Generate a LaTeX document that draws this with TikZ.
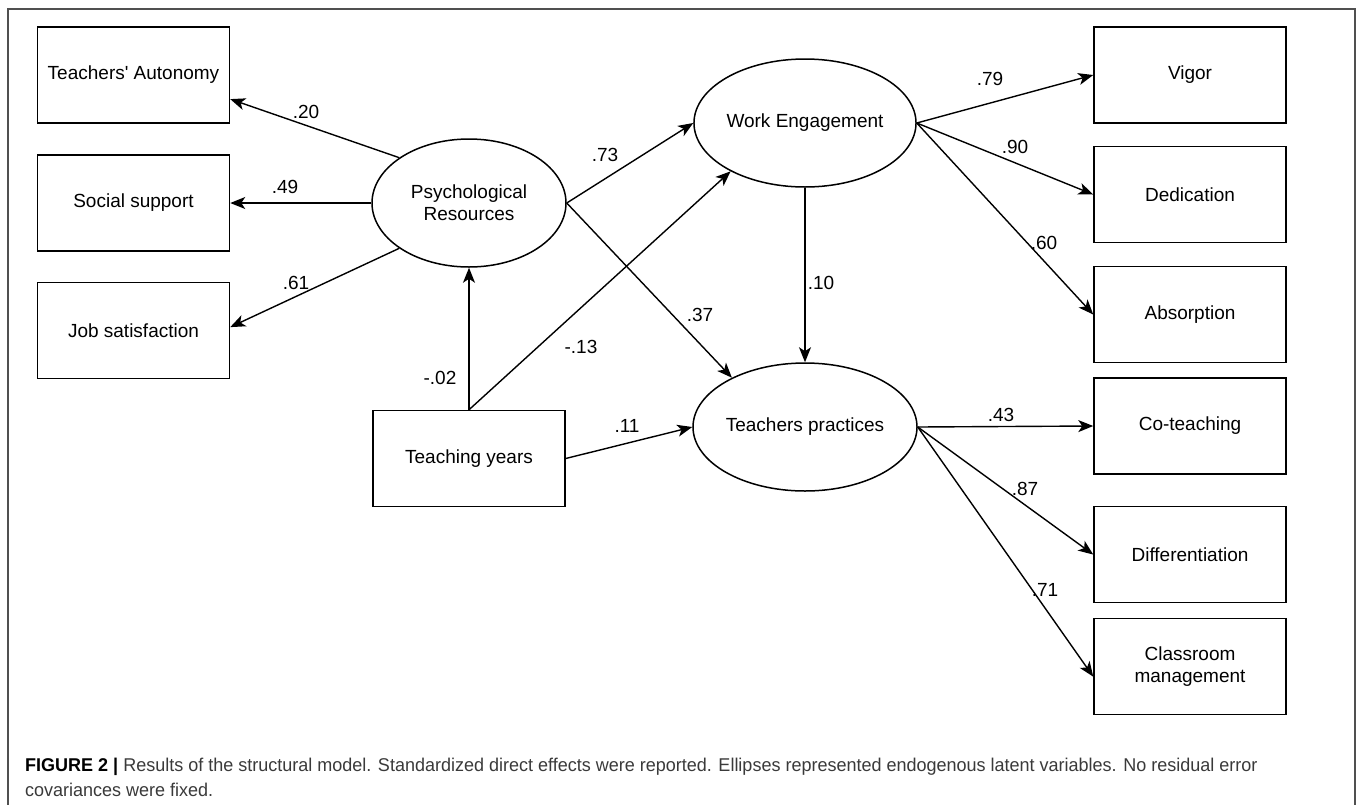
\documentclass[tikz,border=0pt]{standalone}
\usepackage{fontspec}
\setmainfont{Liberation Sans}
\newfontfamily\capfont[FakeStretch=0.973]{Liberation Sans}
\usetikzlibrary{arrows.meta,shapes.geometric}
\definecolor{capgray}{HTML}{3A3A3A}
\definecolor{framegray}{HTML}{505050}
\tikzset{
  obs/.style={draw, line width=1.5pt, minimum width=192pt, minimum height=96pt,
    inner sep=0pt, align=center, font=\fontsize{19}{22}\selectfont},
  lat/.style={draw, ellipse, line width=1.5pt, minimum width=194pt, minimum height=128pt,
    inner sep=0pt, align=center, font=\fontsize{19}{22}\selectfont},
  eff/.style={-{Stealth[length=15pt,width=12pt,inset=4pt]}, line width=1.4pt},
  lbl/.style={inner sep=0pt, font=\fontsize{19}{22}\selectfont},
  captxt/.style={inner sep=0pt, anchor=base west, text=capgray, font=\capfont\fontsize{18.5}{22}\selectfont}
}
\begin{document}
\begin{tikzpicture}[x=1pt, y=-1pt]
    \useasboundingbox (0,0) rectangle (1358,804);
    \draw[framegray, line width=1.5pt] (8,806) -- (8,9) -- (1355,9) -- (1355,806); % frame
    % indicators on the left
    \node[obs] (ta) at (133.5,75) {Teachers\textquotesingle\ Autonomy};
    \node[obs] (ss) at (133.5,203) {Social support};
    \node[obs] (js) at (133.5,330.5) {Job satisfaction};
    % latent variables
    \node[lat] (pr) at (469,203) {Psychological\\Resources};
    \node[lat] (we) at (805,123) {Work Engagement};
    \node[lat] (tp) at (805,427) {Teachers practices};
    \node[obs] (ty) at (469,458.5) {Teaching years};
    % indicators on the right
    \node[obs] (vig) at (1190,75) {Vigor};
    \node[obs] (ded) at (1190,194.5) {Dedication};
    \node[obs] (abs) at (1190,314.5) {Absorption};
    \node[obs] (cot) at (1190,426) {Co-teaching};
    \node[obs] (dif) at (1190,554.5) {Differentiation};
    \node[obs] (cm) at (1190,666.5) {Classroom\\management};
    % paths
    \draw[eff] (pr.147) -- (ta.-14);
    \draw[eff] (pr.west) -- (ss.east);
    \draw[eff] (pr.213) -- (js.2);
    \draw[eff] (ty.north) -- (pr.south);
    \draw[eff] (ty.north) -- (we.213);
    \draw[eff] (pr.east) -- (we.west);
    \draw[eff] (pr.east) -- (tp.146);
    \draw[eff] (ty.east) -- (tp.west);
    \draw[eff] (we.south) -- (tp.north);
    \foreach \t in {vig,ded,abs} \draw[eff] (we.east) -- (\t.west);
    \draw[eff] (tp.east) -- (cot.west);
    \draw[eff] (tp.east) -- (dif.west);
    \draw[eff] (tp.east) -- (cm.186);
    % coefficients
    \node[lbl] (l20) at (306,112) {.20};
    \node[lbl] (l49) at (285,187) {.49};
    \node[lbl] (l61) at (296,283) {.61};
    \node[lbl] (l02) at (440,378) {-.02};
    \node[lbl] (l13) at (581,347) {-.13};
    \node[lbl] (l73) at (605,155) {.73};
    \node[lbl] (l37) at (700,315) {.37};
    \node[lbl] (l11) at (627,426) {.11};
    \node[lbl] (l10) at (821,283) {.10};
    \node[lbl] (l79) at (990,79) {.79};
    \node[lbl] (l90) at (1015,147) {.90};
    \node[lbl] (l60) at (1044,243) {.60};
    \node[lbl] (l43) at (1001,415) {.43};
    \node[lbl] (l87) at (1025,489) {.87};
    \node[lbl] (l71) at (1045,590) {.71};
    % caption
    \node[captxt] (cap1) at (25,771) {\textbf{\color{black}FIGURE 2 |} Results of the structural model. Standardized direct effects were reported. Ellipses represented endogenous latent variables. No residual error};
    \node[captxt] (cap2) at (25,796) {covariances were fixed.};
\end{tikzpicture}
\end{document}
